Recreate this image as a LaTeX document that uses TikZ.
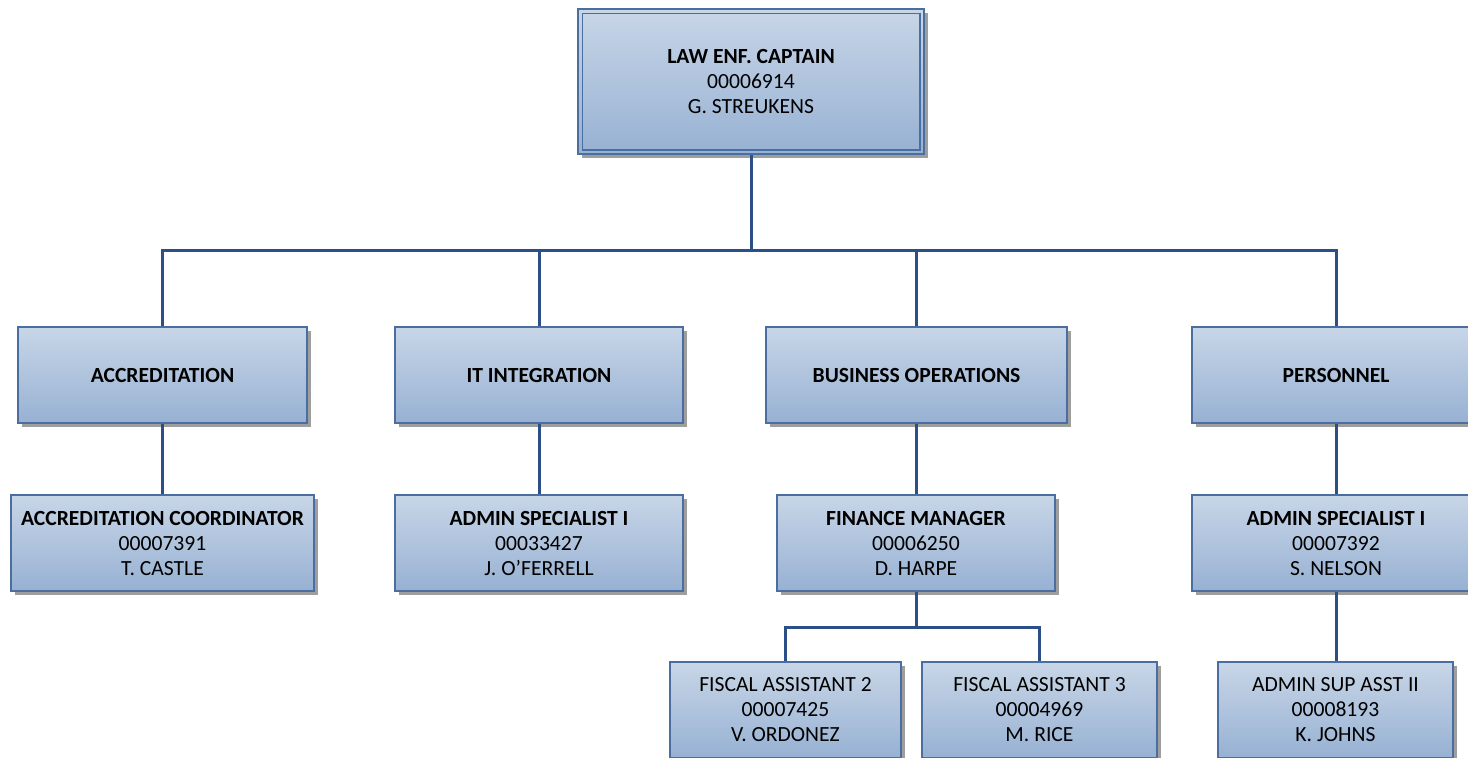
\documentclass[tikz,border=0pt]{standalone}
\usepackage{fontspec}
\setmainfont{Carlito}
\usetikzlibrary{shadows}
\definecolor{boxtop}{HTML}{C8D6E7}
\definecolor{boxbot}{HTML}{97B1D3}
\definecolor{boxline}{HTML}{4A6E9F}
\definecolor{wire}{HTML}{2B4F86}
\begin{document}
\begin{tikzpicture}[x=1pt,y=-1pt,
  job/.style={draw=boxline,line width=1.5pt,top color=boxtop,bottom color=boxbot,align=center,inner sep=0pt,
    minimum width=#1,minimum height=96pt,font=\fontsize{21.6}{25}\selectfont,
    drop shadow={shadow xshift=4pt,shadow yshift=-4pt,fill=black!38,opacity=1}},
  ln/.style={draw=wire,line width=3pt}]
\useasboundingbox (0,0) rectangle (1468,758);
\clip (0,0) rectangle (1468,758);
\node[job=346,minimum height=145pt] (cap) at (751,81.5) {\textbf{LAW ENF. CAPTAIN}\\00006914\\G. STREUKENS};
\draw[draw=boxline,line width=1.5pt] ([shift={(5,5)}]cap.north west) rectangle ([shift={(-5,-5)}]cap.south east);
\node[job=289] (acc) at (162.5,375) {\textbf{ACCREDITATION}};
\node[job=288] (itg) at (539,375) {\textbf{IT INTEGRATION}};
\node[job=301] (bops) at (916.5,375) {\textbf{BUSINESS OPERATIONS}};
\node[job=288] (pers) at (1336,375) {\textbf{PERSONNEL}};
\node[job=303] (coord) at (162.5,543) {\textbf{ACCREDITATION COORDINATOR}\\00007391\\T. CASTLE};
\node[job=288] (itadm) at (539,543) {\textbf{ADMIN SPECIALIST I}\\00033427\\J. O’FERRELL};
\node[job=278] (fin) at (916,543) {\textbf{FINANCE MANAGER}\\00006250\\D. HARPE};
\node[job=288] (padm) at (1336,543) {\textbf{ADMIN SPECIALIST I}\\00007392\\S. NELSON};
\node[job=231] (fa2) at (785.5,710) {FISCAL ASSISTANT 2\\00007425\\V. ORDONEZ};
\node[job=235] (fa3) at (1039.5,710) {FISCAL ASSISTANT 3\\00004969\\M. RICE};
\node[job=235] (sup) at (1335.5,710) {ADMIN SUP ASST II\\00008193\\K. JOHNS};
\coordinate (hub) at (751,250);
\coordinate (fhub) at (916,627);
\draw[ln] (cap.south) -- (hub);
\foreach \n in {acc,itg,bops,pers} \draw[ln] (hub) -| (\n.north);
\foreach \a/\b in {acc/coord,itg/itadm,bops/fin,pers/padm,padm/sup} \draw[ln] (\a.south) -- (\a.south |- \b.north);
\draw[ln] (fin.south) -- (fhub);
\foreach \n in {fa2,fa3} \draw[ln] (fhub) -| (\n.north);
\end{tikzpicture}
\end{document}
